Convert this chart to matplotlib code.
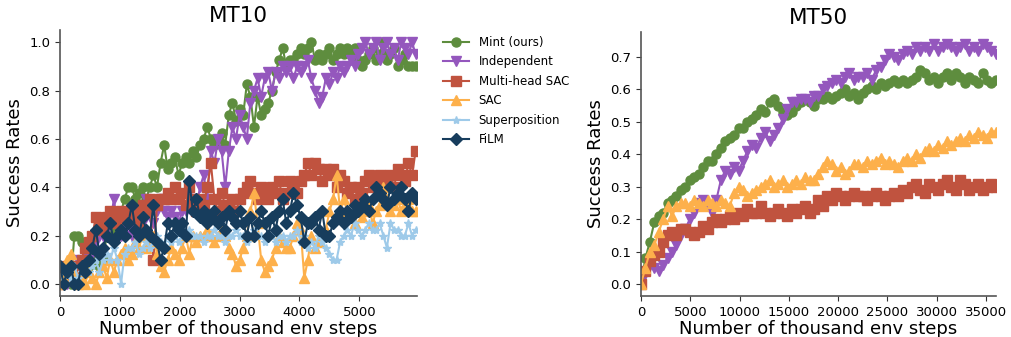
import numpy as np
import matplotlib
matplotlib.use("Agg")
import matplotlib.pyplot as plt

# MT10: one point every 60 thousand steps
mt10_x = np.arange(100) * 60
mt10_mint = [
    0.0, 0.025, 0.05, 0.0, 0.2, 0.2, 0.175, 0.1, 0.075, 0.1,
    0.125, 0.075, 0.1, 0.2, 0.25, 0.225, 0.25, 0.3, 0.35, 0.4,
    0.4, 0.35, 0.375, 0.4, 0.35, 0.4, 0.45, 0.4, 0.5, 0.575,
    0.475, 0.5, 0.525, 0.45, 0.5, 0.525, 0.5, 0.55, 0.525, 0.575,
    0.6, 0.65, 0.6, 0.575, 0.6, 0.625, 0.575, 0.7, 0.75, 0.675,
    0.725, 0.7, 0.825, 0.775, 0.65, 0.775, 0.7, 0.725, 0.75, 0.8,
    0.875, 0.925, 0.975, 0.9, 0.925, 0.925, 0.95, 0.975, 0.95, 0.975,
    1.0, 0.925, 0.95, 0.925, 0.95, 0.975, 0.925, 0.95, 0.975, 0.95,
    0.975, 0.95, 0.975, 0.925, 0.9, 0.925, 0.95, 0.975, 0.925, 0.95,
    1.0, 0.925, 0.95, 0.975, 0.9, 0.925, 0.95, 0.9, 0.9, 0.9]
mt10_indep = [
    0.0, 0.025, 0.0, 0.05, 0.075, 0.1, 0.075, 0.125, 0.1, 0.15,
    0.175, 0.2, 0.2, 0.225, 0.25, 0.35, 0.25, 0.2, 0.225, 0.25,
    0.2, 0.225, 0.275, 0.25, 0.35, 0.3, 0.25, 0.3, 0.35, 0.3,
    0.275, 0.3, 0.275, 0.25, 0.3, 0.3, 0.4, 0.35, 0.325, 0.4,
    0.45, 0.35, 0.55, 0.5, 0.6, 0.55, 0.4, 0.55, 0.65, 0.6,
    0.7, 0.65, 0.6, 0.75, 0.8, 0.85, 0.775, 0.85, 0.875, 0.8,
    0.875, 0.85, 0.9, 0.875, 0.9, 0.85, 0.9, 0.875, 0.9, 0.925,
    0.85, 0.8, 0.75, 0.775, 0.85, 0.825, 0.875, 0.85, 0.9, 0.875,
    0.9, 0.925, 0.9, 0.95, 0.975, 1.0, 0.95, 0.975, 1.0, 0.925,
    0.975, 1.0, 0.95, 0.975, 0.925, 1.0, 0.975, 0.95, 1.0, 0.95]
mt10_mhsac = [
    0.0, 0.05, 0.075, 0.025, 0.075, 0.05, 0.1, 0.15, 0.175, 0.2,
    0.275, 0.25, 0.225, 0.275, 0.3, 0.275, 0.25, 0.3, 0.275, 0.3,
    0.275, 0.3, 0.25, 0.325, 0.3, 0.35, 0.1, 0.325, 0.35, 0.35,
    0.375, 0.35, 0.4, 0.35, 0.375, 0.325, 0.4, 0.35, 0.3, 0.35,
    0.325, 0.4, 0.5, 0.35, 0.3, 0.375, 0.325, 0.325, 0.35, 0.3,
    0.35, 0.375, 0.4, 0.425, 0.375, 0.35, 0.4, 0.375, 0.35, 0.4,
    0.375, 0.425, 0.35, 0.375, 0.425, 0.4, 0.375, 0.425, 0.45, 0.5,
    0.45, 0.5, 0.475, 0.425, 0.475, 0.45, 0.475, 0.4, 0.45, 0.425,
    0.375, 0.4, 0.35, 0.4, 0.375, 0.425, 0.45, 0.4, 0.425, 0.45,
    0.4, 0.425, 0.45, 0.4, 0.475, 0.45, 0.425, 0.5, 0.45, 0.55]
mt10_sac = [
    0.0, 0.025, 0.1, 0.125, 0.05, 0.0, 0.025, 0.0, 0.05, 0.025,
    0.0, 0.05, 0.075, 0.025, 0.1, 0.05, 0.1, 0.125, 0.15, 0.1,
    0.125, 0.175, 0.15, 0.2, 0.15, 0.175, 0.2, 0.125, 0.075, 0.05,
    0.1, 0.15, 0.125, 0.1, 0.15, 0.2, 0.125, 0.2, 0.175, 0.2,
    0.2, 0.225, 0.2, 0.175, 0.2, 0.225, 0.2, 0.15, 0.125, 0.075,
    0.1, 0.15, 0.2, 0.3, 0.375, 0.25, 0.1, 0.05, 0.075, 0.1,
    0.15, 0.2, 0.175, 0.15, 0.15, 0.2, 0.25, 0.225, 0.025, 0.1,
    0.2, 0.15, 0.175, 0.2, 0.225, 0.3, 0.35, 0.45, 0.3, 0.35,
    0.3, 0.275, 0.25, 0.3, 0.275, 0.3, 0.325, 0.25, 0.3, 0.325,
    0.4, 0.35, 0.3, 0.325, 0.35, 0.3, 0.325, 0.35, 0.3, 0.3]
mt10_superpos = [
    0.05, 0.0, 0.05, 0.025, 0.075, 0.025, 0.05, 0.075, 0.05, 0.075,
    0.1, 0.05, 0.1, 0.125, 0.1, 0.15, 0.1, 0.0, 0.125, 0.15,
    0.15, 0.175, 0.125, 0.15, 0.175, 0.15, 0.175, 0.2, 0.175, 0.15,
    0.2, 0.175, 0.2, 0.175, 0.2, 0.2, 0.225, 0.2, 0.2, 0.2,
    0.175, 0.2, 0.2, 0.225, 0.2, 0.2, 0.175, 0.2, 0.2, 0.225,
    0.2, 0.2, 0.175, 0.2, 0.225, 0.2, 0.2, 0.175, 0.2, 0.2,
    0.175, 0.2, 0.2, 0.175, 0.2, 0.2, 0.225, 0.175, 0.2, 0.15,
    0.175, 0.15, 0.2, 0.175, 0.15, 0.125, 0.1, 0.1, 0.175, 0.2,
    0.225, 0.2, 0.25, 0.225, 0.2, 0.225, 0.25, 0.225, 0.225, 0.25,
    0.2, 0.15, 0.25, 0.225, 0.225, 0.2, 0.2, 0.25, 0.2, 0.225]
mt10_film = [
    0.075, 0.0, 0.05, 0.075, 0.0, 0.0, 0.075, 0.05, 0.1, 0.15,
    0.225, 0.125, 0.15, 0.2, 0.25, 0.175, 0.2, 0.225, 0.2, 0.25,
    0.325, 0.225, 0.2, 0.275, 0.225, 0.2, 0.325, 0.175, 0.1, 0.15,
    0.25, 0.2, 0.25, 0.225, 0.25, 0.2, 0.425, 0.3, 0.35, 0.275,
    0.3, 0.25, 0.275, 0.3, 0.25, 0.275, 0.225, 0.3, 0.275, 0.25,
    0.3, 0.25, 0.2, 0.275, 0.2, 0.25, 0.3, 0.25, 0.2, 0.275,
    0.225, 0.3, 0.35, 0.25, 0.3, 0.375, 0.325, 0.275, 0.175, 0.25,
    0.25, 0.275, 0.225, 0.3, 0.2, 0.2, 0.25, 0.275, 0.3, 0.25,
    0.3, 0.275, 0.325, 0.3, 0.325, 0.35, 0.3, 0.35, 0.4, 0.375,
    0.35, 0.325, 0.4, 0.35, 0.375, 0.4, 0.35, 0.3, 0.375, 0.35]

# MT50: one point every 450 thousand steps
mt50_x = np.arange(81) * 450
mt50_mint = [
    0.0, 0.08, 0.13, 0.19, 0.21, 0.22, 0.25, 0.26, 0.27, 0.29,
    0.3, 0.32, 0.33, 0.34, 0.36, 0.38, 0.38, 0.4, 0.42, 0.44,
    0.45, 0.46, 0.48, 0.48, 0.5, 0.51, 0.52, 0.54, 0.53, 0.56,
    0.57, 0.55, 0.53, 0.52, 0.53, 0.55, 0.56, 0.57, 0.56, 0.55,
    0.57, 0.57, 0.58, 0.57, 0.58, 0.59, 0.6, 0.58, 0.59, 0.57,
    0.59, 0.6, 0.61, 0.6, 0.62, 0.61, 0.62, 0.63, 0.62, 0.63,
    0.62, 0.63, 0.64, 0.66, 0.65, 0.63, 0.64, 0.62, 0.64, 0.65,
    0.63, 0.65, 0.64, 0.62, 0.64, 0.63, 0.62, 0.65, 0.63, 0.62,
    0.63]
mt50_indep = [
    0.02, 0.03, 0.06, 0.05, 0.04, 0.06, 0.08, 0.1, 0.12, 0.15,
    0.17, 0.2, 0.22, 0.25, 0.26, 0.24, 0.22, 0.26, 0.32, 0.35,
    0.34, 0.36, 0.35, 0.38, 0.41, 0.43, 0.42, 0.45, 0.47, 0.44,
    0.46, 0.48, 0.51, 0.54, 0.56, 0.56, 0.57, 0.57, 0.56, 0.58,
    0.58, 0.6, 0.61, 0.62, 0.63, 0.62, 0.64, 0.65, 0.63, 0.64,
    0.64, 0.65, 0.63, 0.66, 0.67, 0.69, 0.71, 0.7, 0.69, 0.71,
    0.72, 0.71, 0.73, 0.72, 0.73, 0.72, 0.74, 0.72, 0.73, 0.74,
    0.73, 0.72, 0.73, 0.74, 0.72, 0.73, 0.72, 0.74, 0.73, 0.72,
    0.71]
mt50_mhsac = [
    0.0, 0.04, 0.07, 0.09, 0.1, 0.13, 0.15, 0.16, 0.15, 0.17,
    0.17, 0.16, 0.15, 0.16, 0.18, 0.17, 0.19, 0.2, 0.19, 0.2,
    0.21, 0.2, 0.22, 0.21, 0.23, 0.22, 0.22, 0.24, 0.22, 0.21,
    0.22, 0.23, 0.22, 0.21, 0.23, 0.22, 0.23, 0.24, 0.22, 0.23,
    0.26, 0.24, 0.27, 0.26, 0.28, 0.27, 0.26, 0.27, 0.28, 0.27,
    0.27, 0.26, 0.27, 0.28, 0.27, 0.26, 0.27, 0.28, 0.27, 0.29,
    0.28, 0.3, 0.31, 0.29, 0.28, 0.31, 0.3, 0.29, 0.31, 0.32,
    0.3, 0.29, 0.32, 0.31, 0.29, 0.3, 0.31, 0.29, 0.3, 0.31,
    0.3]
mt50_sac = [
    0.0, 0.05, 0.1, 0.12, 0.16, 0.2, 0.24, 0.21, 0.24, 0.25,
    0.25, 0.24, 0.26, 0.25, 0.24, 0.26, 0.25, 0.24, 0.26, 0.25,
    0.24, 0.28, 0.3, 0.29, 0.27, 0.28, 0.29, 0.3, 0.31, 0.32,
    0.3, 0.31, 0.32, 0.3, 0.31, 0.32, 0.31, 0.33, 0.32, 0.32,
    0.34, 0.36, 0.38, 0.37, 0.35, 0.36, 0.34, 0.35, 0.37, 0.37,
    0.36, 0.38, 0.37, 0.38, 0.39, 0.37, 0.38, 0.37, 0.36, 0.38,
    0.39, 0.38, 0.4, 0.39, 0.41, 0.42, 0.41, 0.43, 0.42, 0.44,
    0.43, 0.44, 0.45, 0.44, 0.46, 0.45, 0.47, 0.46, 0.45, 0.47,
    0.47]

labels = ["Mint (ours)", "Independent", "Multi-head SAC", "SAC", "Superposition", "FiLM"]
colors = ["#5e8d3e", "#9457bd", "#c0533f", "#fdb04b", "#9ecae9", "#173d5d"]
markers = ["o", "v", "s", "^", "*", "D"]

fig = plt.figure(figsize=(10.11, 3.37), dpi=100)
ax1 = fig.add_axes([0.0593, 0.1217, 0.353, 0.789])
ax2 = fig.add_axes([0.634, 0.1217, 0.351, 0.783])

mt10_series = [mt10_mint, mt10_indep, mt10_mhsac, mt10_sac, mt10_superpos, mt10_film]
for y, lab, c, m in zip(mt10_series, labels, colors, markers):
    ms = 6.5 if m != "*" else 6
    ax1.plot(mt10_x, y, color=c, marker=m, markersize=ms, linewidth=1.5, label=lab)

mt50_series = [mt50_mint, mt50_indep, mt50_mhsac, mt50_sac]
for y, c, m in zip(mt50_series, colors[:4], markers[:4]):
    ax2.plot(mt50_x, y, color=c, marker=m, markersize=6.5, linewidth=1.5)

ax1.set_xlim(0, 5960)
ax1.set_xticks([0, 1000, 2000, 3000, 4000, 5000])
ax1.set_yticks([0.0, 0.2, 0.4, 0.6, 0.8, 1.0])
ax2.set_xlim(0, 36000)
ax2.set_xticks(np.arange(0, 35001, 5000))
ax2.set_yticks(np.arange(0, 0.71, 0.1))

for ax, title in [(ax1, "MT10"), (ax2, "MT50")]:
    ax.set_title(title, fontsize=15.5)
    ax.set_xlabel("Number of thousand env steps", fontsize=13, labelpad=1)
    ax.set_ylabel("Success Rates", fontsize=13, labelpad=4)
    ax.tick_params(labelsize=9.5, color="#333333", length=3.5)
    ax.spines["top"].set_visible(False)
    ax.spines["right"].set_visible(False)
    for s in ["left", "bottom"]:
        ax.spines[s].set_color("#555555")
        ax.spines[s].set_linewidth(1.2)

fig.legend(*ax1.get_legend_handles_labels(), loc="upper left",
           bbox_to_anchor=(0.428, 0.925), frameon=False, fontsize=8.5,
           handlelength=2.2, labelspacing=0.55)

fig.savefig("out.png", dpi=100)
